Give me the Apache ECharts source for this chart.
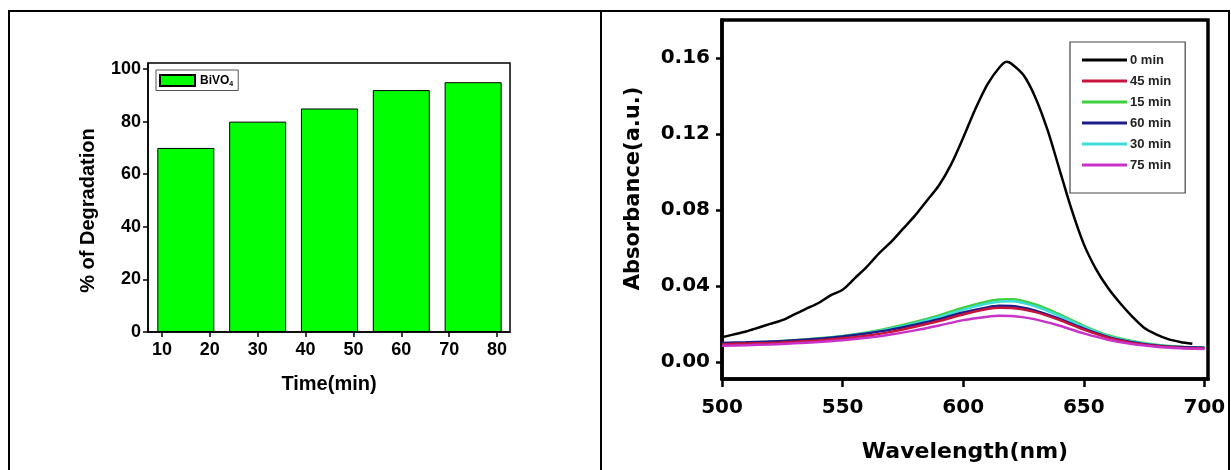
<!DOCTYPE html>
<html>
<head>
<meta charset="utf-8">
<script src="https://cdn.jsdelivr.net/npm/echarts@6/dist/echarts.min.js"></script>
<style>
html, body { margin: 0; padding: 0; background: #fff; }
#chart { width: 1231px; height: 470px; }
</style>
</head>
<body>
<div id="chart"></div>
<script>
// left panel: degradation vs time
var times = [15, 30, 45, 60, 75];
var degradation = [70, 80, 85, 92, 95];
var timeTicks = [10, 20, 30, 40, 50, 60, 70, 80];
var degTicks = [0, 20, 40, 60, 80, 100];

// right panel: absorbance spectra
var wl0 = [500, 505, 510, 515, 520, 525, 530, 535, 540, 545, 550, 555, 560, 565, 570, 575, 580, 585, 590, 595,
           600, 605, 610, 615, 618, 620, 625, 630, 635, 640, 645, 650, 655, 660, 665, 670, 675, 680, 685, 690, 695];
var abs0 = [0.013, 0.0145, 0.016, 0.018, 0.020, 0.022, 0.025, 0.028, 0.031, 0.035, 0.038, 0.044, 0.050, 0.057, 0.063, 0.070, 0.077, 0.085, 0.093, 0.104,
            0.118, 0.133, 0.146, 0.155, 0.158, 0.157, 0.151, 0.139, 0.122, 0.101, 0.080, 0.062, 0.049, 0.039, 0.031, 0.024, 0.018, 0.0145, 0.012, 0.0105, 0.0095];
var wl = [500, 510, 520, 530, 540, 550, 560, 570, 580, 590, 600, 610, 615, 620, 630, 640, 650, 660, 670, 680, 690, 700];
var abs15 = [0.0095, 0.0100, 0.0106, 0.0114, 0.0124, 0.0137, 0.0155, 0.0180, 0.0210, 0.0245, 0.0285, 0.0318, 0.0328, 0.0330, 0.0302, 0.0250, 0.0190, 0.0140, 0.0110, 0.0090, 0.0080, 0.0075];
var abs30 = [0.0090, 0.0097, 0.0104, 0.0112, 0.0122, 0.0135, 0.0152, 0.0175, 0.0203, 0.0236, 0.0275, 0.0307, 0.0317, 0.0319, 0.0292, 0.0242, 0.0184, 0.0136, 0.0107, 0.0088, 0.0078, 0.0074];
var abs45 = [0.0092, 0.0097, 0.0100, 0.0106, 0.0113, 0.0124, 0.0138, 0.0158, 0.0185, 0.0215, 0.0250, 0.0278, 0.0285, 0.0284, 0.0262, 0.0220, 0.0170, 0.0128, 0.0100, 0.0084, 0.0075, 0.0071];
var abs60 = [0.0100, 0.0103, 0.0107, 0.0114, 0.0122, 0.0134, 0.0150, 0.0170, 0.0196, 0.0225, 0.0260, 0.0287, 0.0295, 0.0294, 0.0270, 0.0226, 0.0175, 0.0132, 0.0104, 0.0087, 0.0078, 0.0074];
var abs75 = [0.0085, 0.0088, 0.0092, 0.0098, 0.0105, 0.0114, 0.0127, 0.0144, 0.0166, 0.0192, 0.0220, 0.0238, 0.0243, 0.0242, 0.0224, 0.0190, 0.0150, 0.0117, 0.0094, 0.0080, 0.0072, 0.0068];
var wlTicks = [500, 550, 600, 650, 700];
var absTicks = [0, 0.04, 0.08, 0.12, 0.16];
var legendNames = ['0 min', '45 min', '15 min', '60 min', '30 min', '75 min'];

function pairs(xs, ys) {
    return xs.map(function (x, i) { return [x, ys[i]]; });
}

var myChart = echarts.init(document.getElementById('chart'));
var arialB = { fontFamily: 'Liberation Sans', fontWeight: 'bold', color: '#000' };
var heavy = { fontFamily: 'DejaVu Sans', fontWeight: 'bold', color: '#000' };

option = {
    animation: false,
    backgroundColor: '#fff',
    graphic: [
        { type: 'line', shape: { x1: 8, y1: 11, x2: 1230, y2: 11 }, style: { stroke: '#000', lineWidth: 2 } },
        { type: 'line', shape: { x1: 9, y1: 11, x2: 9, y2: 470 }, style: { stroke: '#000', lineWidth: 2 } },
        { type: 'line', shape: { x1: 601, y1: 11, x2: 601, y2: 470 }, style: { stroke: '#000', lineWidth: 2 } },
        { type: 'line', shape: { x1: 1229, y1: 11, x2: 1229, y2: 470 }, style: { stroke: '#000', lineWidth: 2 } }
    ],
    legend: [
        {
            data: ['BiVO4'],
            left: 156, top: 70,
            orient: 'vertical',
            padding: [4, 5, 3, 3],
            borderColor: '#555', borderWidth: 1,
            icon: 'rect',
            itemWidth: 35, itemHeight: 11,
            formatter: function () { return '{a|BiVO}{b|4}'; },
            textStyle: {
                rich: {
                    a: { fontFamily: 'Liberation Sans', fontWeight: 'bold', fontSize: 12, color: '#000' },
                    b: { fontFamily: 'Liberation Sans', fontWeight: 'bold', fontSize: 7, color: '#000', padding: [7, 0, 0, 0] }
                }
            }
        },
        {
            data: legendNames,
            left: 1070, top: 42,
            orient: 'vertical',
            padding: [11, 14, 21, 12],
            borderColor: '#444', borderWidth: 1.2,
            icon: 'rect',
            itemWidth: 45, itemHeight: 3,
            itemGap: 7,
            textStyle: { fontFamily: 'Liberation Sans', fontWeight: 'bold', fontSize: 13, lineHeight: 14, color: '#222', padding: [0, 0, 0, -2] }
        }
    ],
    grid: [
        { left: 148, top: 63, width: 362, height: 269, show: true, borderColor: '#000', borderWidth: 1.5 },
        { left: 722, top: 20, width: 486, height: 359, show: true, borderColor: '#000', borderWidth: 3.5 }
    ],
    xAxis: [
        {
            gridIndex: 0, type: 'value', min: 7.1, max: 82.7,
            name: 'Time(min)', nameLocation: 'middle', nameGap: 42,
            nameTextStyle: Object.assign({ fontSize: 20 }, arialB),
            splitLine: { show: false },
            axisLine: { onZero: false, lineStyle: { color: '#000', width: 1.5 } },
            axisTick: { customValues: timeTicks, length: 5, lineStyle: { color: '#000', width: 1.5 } },
            axisLabel: Object.assign({ customValues: timeTicks, fontSize: 18, margin: 9 }, arialB)
        },
        {
            gridIndex: 1, type: 'value', min: 500, max: 701.5,
            name: 'Wavelength(nm)', nameLocation: 'middle', nameGap: 62,
            nameTextStyle: Object.assign({ fontSize: 22 }, heavy),
            splitLine: { show: false },
            axisLine: { onZero: false, lineStyle: { color: '#000', width: 3.5 } },
            axisTick: { customValues: wlTicks, length: 8, lineStyle: { color: '#000', width: 2.5 } },
            axisLabel: Object.assign({ customValues: wlTicks, fontSize: 20, margin: 19 }, heavy)
        }
    ],
    yAxis: [
        {
            gridIndex: 0, type: 'value', min: 0, max: 102.3,
            name: '% of Degradation', nameLocation: 'middle', nameGap: 50, nameRotate: 90,
            nameTextStyle: Object.assign({ fontSize: 20, padding: [0, 26, 0, 0] }, arialB),
            splitLine: { show: false },
            axisLine: { onZero: false, lineStyle: { color: '#000', width: 1.5 } },
            axisTick: { customValues: degTicks, length: 5, lineStyle: { color: '#000', width: 1.5 } },
            axisLabel: Object.assign({ customValues: degTicks, fontSize: 18, margin: 7 }, arialB)
        },
        {
            gridIndex: 1, type: 'value', min: -0.009, max: 0.18,
            name: 'Absorbance(a.u.)', nameLocation: 'middle', nameGap: 78, nameRotate: 90,
            nameTextStyle: Object.assign({ fontSize: 21, padding: [0, 0, 0, 22] }, heavy),
            splitLine: { show: false },
            axisLine: { onZero: false, lineStyle: { color: '#000', width: 3.5 } },
            axisTick: { customValues: absTicks, length: 6, lineStyle: { color: '#000', width: 2.5 } },
            axisLabel: Object.assign({
                customValues: absTicks, fontSize: 20, margin: 12,
                formatter: function (v) { return v.toFixed(2); }
            }, heavy)
        }
    ],
    series: [
        {
            name: 'BiVO4', type: 'bar', xAxisIndex: 0, yAxisIndex: 0,
            barWidth: 57,
            data: pairs(times, degradation),
            itemStyle: { color: '#00ff00', borderColor: '#000', borderWidth: 1 }
        },
        {
            name: '0 min', type: 'line', xAxisIndex: 1, yAxisIndex: 1,
            data: pairs(wl0, abs0), showSymbol: false, smooth: 0.3,
            color: '#000', lineStyle: { width: 2.5 }
        },
        {
            name: '15 min', type: 'line', xAxisIndex: 1, yAxisIndex: 1,
            data: pairs(wl, abs15), showSymbol: false, smooth: 0.3,
            color: '#3ecf3e', lineStyle: { width: 2.5 }
        },
        {
            name: '30 min', type: 'line', xAxisIndex: 1, yAxisIndex: 1,
            data: pairs(wl, abs30), showSymbol: false, smooth: 0.3,
            color: '#3fdcdc', lineStyle: { width: 2.5 }
        },
        {
            name: '60 min', type: 'line', xAxisIndex: 1, yAxisIndex: 1,
            data: pairs(wl, abs60), showSymbol: false, smooth: 0.3,
            color: '#1c1c8a', lineStyle: { width: 2.5 }
        },
        {
            name: '45 min', type: 'line', xAxisIndex: 1, yAxisIndex: 1,
            data: pairs(wl, abs45), showSymbol: false, smooth: 0.3,
            color: '#c8143c', lineStyle: { width: 2.5 }
        },
        {
            name: '75 min', type: 'line', xAxisIndex: 1, yAxisIndex: 1,
            data: pairs(wl, abs75), showSymbol: false, smooth: 0.3,
            color: '#c832c8', lineStyle: { width: 2.5 }
        }
    ]
};

myChart.setOption(option);
</script>
</body>
</html>
